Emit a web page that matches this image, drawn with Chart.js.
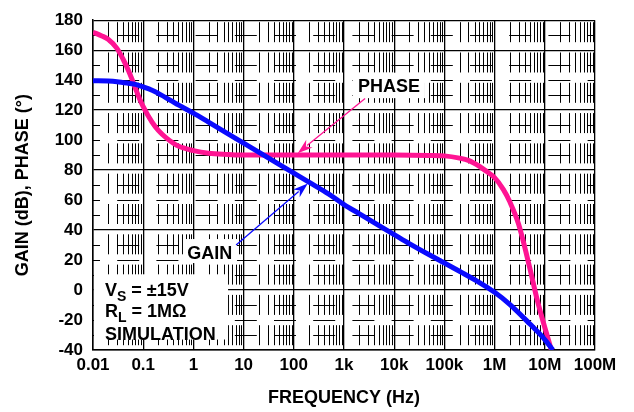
<!DOCTYPE html>
<html>
<head>
<meta charset="utf-8">
<script src="https://cdn.jsdelivr.net/npm/chart.js@4.4.0/dist/chart.umd.min.js"></script>
<style>
  html, body { margin: 0; padding: 0; background: #fff; }
</style>
</head>
<body>
<canvas id="chart" width="634" height="412"></canvas>
<script>
// -------------------------------
// Data
// -------------------------------
const gainFreq = [0.01, 0.02, 0.03, 0.05, 0.07, 0.1, 0.15, 0.2, 0.5, 1, 2, 5, 10, 20, 50, 100, 200, 500,
  1e3, 2e3, 5e3, 1e4, 2e4, 5e4, 1e5, 2e5, 5e5, 1e6, 2e6, 5e6, 1e7, 1.45e7];
const gainDb = [139.6, 139.4, 139, 138, 137.2, 135.5, 133.3, 131.2, 123.5, 118, 112, 104, 98, 92, 84, 78, 72, 64,
  57, 51, 43, 37, 31, 23.5, 18, 12.5, 5, -1.5, -9.5, -22.5, -33, -40];

const phaseFreq = [0.01, 0.015, 0.02, 0.03, 0.04, 0.05, 0.06, 0.07, 0.085, 0.1, 0.15, 0.2, 0.3, 0.5, 1, 2, 5, 10,
  100, 1e3, 1e4, 5e4, 1e5, 2e5, 3e5, 5e5, 7e5, 1e6, 1.5e6, 2e6, 3e6, 5e6, 7e6, 1e7, 1.35e7];
const phaseDeg = [172, 169.5, 167.3, 161.2, 153.8, 147, 140.5, 134.5, 127.5, 122.4, 112, 106.5, 101, 96, 93, 91.2, 90.4, 90,
  90, 90, 90, 89.8, 89.5, 88, 86.5, 82.5, 79, 75, 67, 59, 44, 15, -6, -25, -40];

const decadeTicks = [0.01, 0.1, 1, 10, 100, 1e3, 1e4, 1e5, 1e6, 1e7, 1e8];
const decadeLabels = ["0.01", "0.1", "1", "10", "100", "1k", "10k", "100k", "1M", "10M", "100M"];

const FONT = '"Liberation Sans", Arial, sans-serif';
const BLUE = "#0a0aff";
const PINK = "#ff1493";

// -------------------------------
// Paper-style grid, label boxes and arrows
// -------------------------------
const paperPlugin = {
  id: "paper",
  beforeDatasetsDraw(chart) {
    const { ctx, chartArea: a, scales: { x, y } } = chart;
    ctx.save();
    ctx.beginPath();
    ctx.rect(a.left, a.top, a.right - a.left, a.bottom - a.top);
    ctx.clip();
    ctx.strokeStyle = "#000";
    ctx.lineWidth = 1;

    // minor verticals, broken into short dashes
    ctx.setLineDash([20, 10.3]);
    ctx.lineDashOffset = -2;
    ctx.beginPath();
    decadeTicks.slice(0, -1).forEach((d) => {
      for (let m = 2; m <= 9; m++) {
        const px = Math.round(x.getPixelForValue(d * m)) + 0.5;
        ctx.moveTo(px, a.top);
        ctx.lineTo(px, a.bottom);
      }
    });
    ctx.stroke();

    // secondary horizontals, dashed
    ctx.setLineDash([22, 17.2]);
    ctx.lineDashOffset = 15;
    ctx.beginPath();
    for (let v = -30; v < 180; v += 10) {
      if ((v + 40) % 40 === 0) continue;
      const py = Math.round(y.getPixelForValue(v)) + 0.5;
      ctx.moveTo(a.left, py);
      ctx.lineTo(a.right, py);
    }
    ctx.stroke();
    ctx.setLineDash([]);

    // white boxes behind the labels
    ctx.fillStyle = "#fff";
    const box = (x0, x1, y0, y1) => {
      const l = x.getPixelForValue(x0), r = x.getPixelForValue(x1);
      const t = y.getPixelForValue(y0), b = y.getPixelForValue(y1);
      ctx.fillRect(l, t, r - l, b - t);
    };
    ctx.fillRect(a.left + 1, y.getPixelForValue(10.5), x.getPixelForValue(4.9) - a.left - 1,
      y.getPixelForValue(-33) - y.getPixelForValue(10.5));
    box(0.62, 7.4, 34, 18);
    box(1500, 41000, 145, 128);
    ctx.restore();
  },
  afterDatasetsDraw(chart) {
    const { ctx, scales: { x, y } } = chart;
    ctx.save();

    const arrow = (f0, v0, f1, v1, color) => {
      const x0 = x.getPixelForValue(f0), y0 = y.getPixelForValue(v0);
      const x1 = x.getPixelForValue(f1), y1 = y.getPixelForValue(v1);
      const ang = Math.atan2(y1 - y0, x1 - x0);
      const len = 15, half = 5;
      ctx.strokeStyle = color;
      ctx.fillStyle = color;
      ctx.lineWidth = 1.3;
      ctx.beginPath();
      ctx.moveTo(x0, y0);
      ctx.lineTo(x1 - Math.cos(ang) * len * 0.8, y1 - Math.sin(ang) * len * 0.8);
      ctx.stroke();
      ctx.beginPath();
      ctx.moveTo(x1, y1);
      ctx.lineTo(x1 - Math.cos(ang) * len - Math.sin(ang) * half, y1 - Math.sin(ang) * len + Math.cos(ang) * half);
      ctx.lineTo(x1 - Math.cos(ang) * len * 0.7, y1 - Math.sin(ang) * len * 0.7);
      ctx.lineTo(x1 - Math.cos(ang) * len + Math.sin(ang) * half, y1 - Math.sin(ang) * len - Math.cos(ang) * half);
      ctx.closePath();
      ctx.fill();
    };
    arrow(2630, 127.8, 120, 91.3, PINK);
    arrow(7.1, 30, 190, 71, BLUE);

    ctx.fillStyle = "#000";
    ctx.textBaseline = "alphabetic";
    ctx.textAlign = "left";
    const big = `bold 18px ${FONT}`;
    const small = `bold 14px ${FONT}`;

    ctx.font = big;
    ctx.fillText("GAIN", x.getPixelForValue(0.75), y.getPixelForValue(21));
    ctx.fillText("PHASE", x.getPixelForValue(1900), y.getPixelForValue(132.4));

    // V_S / R_L / SIMULATION block
    const left = chart.chartArea.left + 12;
    const sub = (main, s, rest, v) => {
      const by = y.getPixelForValue(v);
      let px = left;
      ctx.font = big;
      ctx.fillText(main, px, by);
      px += ctx.measureText(main).width;
      ctx.font = small;
      ctx.fillText(s, px, by + 5);
      px += ctx.measureText(s).width;
      ctx.font = big;
      ctx.fillText(rest, px, by);
    };
    sub("V", "S", " = \u00b115V", -4);
    sub("R", "L", " = 1M\u03a9", -18);
    ctx.font = big;
    ctx.fillText("SIMULATION", left, y.getPixelForValue(-33));
    ctx.restore();
  },
};

const tickFont = { family: FONT, size: 17, weight: "bold" };
const titleFont = { family: FONT, size: 18, weight: "bold" };

new Chart(document.getElementById("chart").getContext("2d"), {
  type: "line",
  data: {
    datasets: [
      {
        label: "GAIN",
        data: gainFreq.map((f, i) => ({ x: f, y: gainDb[i] })),
        borderColor: BLUE,
        borderWidth: 5,
        pointRadius: 0,
        cubicInterpolationMode: "monotone",
        fill: false,
      },
      {
        label: "PHASE",
        data: phaseFreq.map((f, i) => ({ x: f, y: phaseDeg[i] })),
        borderColor: PINK,
        borderWidth: 5,
        pointRadius: 0,
        cubicInterpolationMode: "monotone",
        fill: false,
      },
    ],
  },
  options: {
    responsive: false,
    animation: false,
    layout: { padding: { top: 17, right: 39, bottom: 0, left: 0 } },
    plugins: { legend: { display: false }, tooltip: { enabled: false } },
    scales: {
      x: {
        type: "logarithmic",
        min: 0.01,
        max: 1e8,
        afterBuildTicks: (s) => { s.ticks = decadeTicks.map((v) => ({ value: v })); },
        afterFit: (s) => { s.height = 62; },
        ticks: {
          autoSkip: false,
          maxRotation: 0,
          padding: 5,
          color: "#000",
          font: tickFont,
          callback: (v, i) => decadeLabels[i],
        },
        grid: { color: "#000", lineWidth: 1.3, drawTicks: false },
        border: { color: "#000", width: 1.5 },
        title: { display: true, text: "FREQUENCY (Hz)", color: "#000", font: titleFont, padding: { top: 0, bottom: 3 } },
      },
      y: {
        min: -40,
        max: 180,
        afterFit: (s) => { s.width = 93; },
        ticks: { stepSize: 20, padding: 10, color: "#000", font: tickFont },
        grid: {
          drawTicks: false,
          lineWidth: 1.3,
          color: (c) => (c.tick && ((c.tick.value + 40) % 40 === 0 || c.tick.value === 180) ? "#000" : "rgba(0,0,0,0)"),
        },
        border: { color: "#000", width: 1.5 },
        title: { display: true, text: "GAIN (dB), PHASE (\u00b0)", color: "#000", font: titleFont, padding: { top: 12.5, bottom: 0 } },
      },
    },
  },
  plugins: [paperPlugin],
});
</script>
</body>
</html>
